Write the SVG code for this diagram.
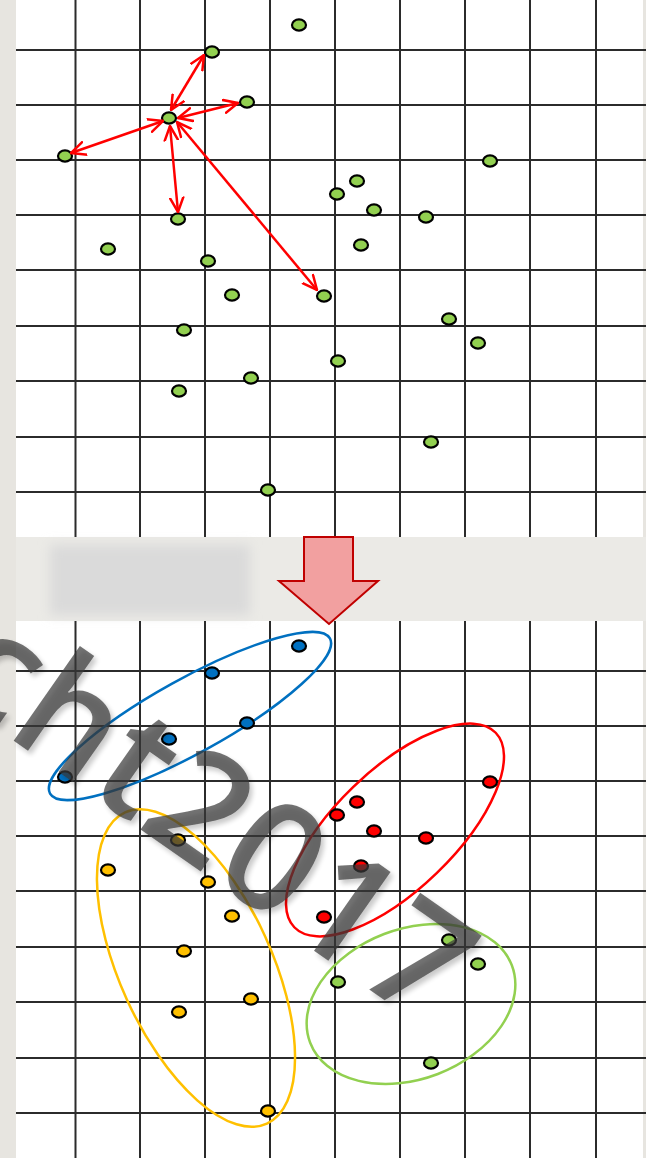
<svg xmlns="http://www.w3.org/2000/svg" width="646" height="1158" viewBox="0 0 646 1158">
<defs>
<style>
.grid line{stroke:#2b2b2b;stroke-width:2}
.dot{stroke:#000;stroke-width:2.2}
.g{fill:#92d050}.b{fill:#0070c0}.r{fill:#ff0000}.y{fill:#ffc000}
.conn line{stroke:#ff0000;stroke-width:2.5;fill:none;marker-start:url(#ah);marker-end:url(#ah)}
.cl{fill:none;stroke-width:2.5}
</style>
<marker id="ah" viewBox="0 0 16 16" markerWidth="16" markerHeight="16" refX="15" refY="8" orient="auto-start-reverse" markerUnits="userSpaceOnUse">
<path d="M0,1 L15,8 L0,15" fill="none" stroke="#ff0000" stroke-width="2.5"/>
</marker>
<filter id="sh" x="-10%" y="-10%" width="130%" height="130%">
<feGaussianBlur in="SourceAlpha" stdDeviation="2.5"/>
<feOffset dx="3" dy="4" result="o"/>
<feComponentTransfer><feFuncA type="linear" slope="0.3"/></feComponentTransfer>
<feMerge><feMergeNode/><feMergeNode in="SourceGraphic"/></feMerge>
</filter>
<filter id="soft" x="-20%" y="-20%" width="140%" height="140%"><feGaussianBlur stdDeviation="6"/></filter>
</defs>
<rect x="0" y="0" width="646" height="1158" fill="#e7e5e0"/>
<rect x="16" y="0" width="627" height="537" fill="#ffffff"/>
<rect x="16" y="621" width="627" height="537" fill="#ffffff"/>
<rect x="16" y="537" width="630" height="84" fill="#ebeae6"/>
<rect x="50" y="545" width="200" height="70" fill="#dadada" filter="url(#soft)"/>
<g class="grid" id="grid-top">
<line x1="75.5" y1="0" x2="75.5" y2="537"/><line x1="140" y1="0" x2="140" y2="537"/><line x1="205" y1="0" x2="205" y2="537"/><line x1="270" y1="0" x2="270" y2="537"/><line x1="335" y1="0" x2="335" y2="537"/><line x1="400" y1="0" x2="400" y2="537"/><line x1="465" y1="0" x2="465" y2="537"/><line x1="530" y1="0" x2="530" y2="537"/><line x1="596" y1="0" x2="596" y2="537"/>
<line x1="16" y1="50" x2="646" y2="50"/><line x1="16" y1="105" x2="646" y2="105"/><line x1="16" y1="160" x2="646" y2="160"/><line x1="16" y1="215" x2="646" y2="215"/><line x1="16" y1="270" x2="646" y2="270"/><line x1="16" y1="326" x2="646" y2="326"/><line x1="16" y1="381" x2="646" y2="381"/><line x1="16" y1="437" x2="646" y2="437"/><line x1="16" y1="492" x2="646" y2="492"/>
</g>
<g class="grid" id="grid-bottom">
<line x1="75.5" y1="621" x2="75.5" y2="1158"/><line x1="140" y1="621" x2="140" y2="1158"/><line x1="205" y1="621" x2="205" y2="1158"/><line x1="270" y1="621" x2="270" y2="1158"/><line x1="335" y1="621" x2="335" y2="1158"/><line x1="400" y1="621" x2="400" y2="1158"/><line x1="465" y1="621" x2="465" y2="1158"/><line x1="530" y1="621" x2="530" y2="1158"/><line x1="596" y1="621" x2="596" y2="1158"/>
<line x1="16" y1="671" x2="646" y2="671"/><line x1="16" y1="726" x2="646" y2="726"/><line x1="16" y1="781" x2="646" y2="781"/><line x1="16" y1="836" x2="646" y2="836"/><line x1="16" y1="891" x2="646" y2="891"/><line x1="16" y1="947" x2="646" y2="947"/><line x1="16" y1="1002" x2="646" y2="1002"/><line x1="16" y1="1058" x2="646" y2="1058"/><line x1="16" y1="1113" x2="646" y2="1113"/>
</g>
<g id="big-arrow">
<polygon points="304,537 353,537 353,581 378,581 329,624 279,581 304,581" fill="#f2a0a0" stroke="#c00000" stroke-width="2"/>
</g>
<g id="clusters">
<ellipse id="cluster-blue" class="cl" stroke="#0070c0" cx="190" cy="716" rx="160" ry="37" transform="rotate(-29 190 716)"/>
<ellipse id="cluster-red" class="cl" stroke="#ff0000" cx="395" cy="830" rx="140" ry="60" transform="rotate(-44 395 830)"/>
<ellipse id="cluster-yellow" class="cl" stroke="#ffc000" cx="196" cy="968" rx="171" ry="76" transform="rotate(65.5 196 968)"/>
<ellipse id="cluster-green" class="cl" stroke="#92d050" cx="411" cy="1004" rx="108" ry="75" transform="rotate(-21 411 1004)"/>
</g>
<g id="nodes-top">
<ellipse id="t1" class="dot g" cx="299" cy="25" rx="7" ry="5.6"/>
<ellipse id="t2" class="dot g" cx="212" cy="52" rx="7" ry="5.6"/>
<ellipse id="t3" class="dot g" cx="247" cy="102" rx="7" ry="5.6"/>
<ellipse id="t4" class="dot g" cx="169" cy="118" rx="7" ry="5.6"/>
<ellipse id="t5" class="dot g" cx="65" cy="156" rx="7" ry="5.6"/>
<ellipse id="t6" class="dot g" cx="178" cy="219" rx="7" ry="5.6"/>
<ellipse id="t7" class="dot g" cx="108" cy="249" rx="7" ry="5.6"/>
<ellipse id="t8" class="dot g" cx="208" cy="261" rx="7" ry="5.6"/>
<ellipse id="t9" class="dot g" cx="490" cy="161" rx="7" ry="5.6"/>
<ellipse id="t10" class="dot g" cx="357" cy="181" rx="7" ry="5.6"/>
<ellipse id="t11" class="dot g" cx="337" cy="194" rx="7" ry="5.6"/>
<ellipse id="t12" class="dot g" cx="374" cy="210" rx="7" ry="5.6"/>
<ellipse id="t13" class="dot g" cx="426" cy="217" rx="7" ry="5.6"/>
<ellipse id="t14" class="dot g" cx="361" cy="245" rx="7" ry="5.6"/>
<ellipse id="t15" class="dot g" cx="324" cy="296" rx="7" ry="5.6"/>
<ellipse id="t16" class="dot g" cx="449" cy="319" rx="7" ry="5.6"/>
<ellipse id="t17" class="dot g" cx="478" cy="343" rx="7" ry="5.6"/>
<ellipse id="t18" class="dot g" cx="338" cy="361" rx="7" ry="5.6"/>
<ellipse id="t19" class="dot g" cx="431" cy="442" rx="7" ry="5.6"/>
<ellipse id="t20" class="dot g" cx="232" cy="295" rx="7" ry="5.6"/>
<ellipse id="t21" class="dot g" cx="184" cy="330" rx="7" ry="5.6"/>
<ellipse id="t22" class="dot g" cx="251" cy="378" rx="7" ry="5.6"/>
<ellipse id="t23" class="dot g" cx="179" cy="391" rx="7" ry="5.6"/>
<ellipse id="t24" class="dot g" cx="268" cy="490" rx="7" ry="5.6"/>
</g>
<g id="nodes-bottom">
<ellipse id="b1" class="dot b" cx="299" cy="646" rx="7" ry="5.6"/>
<ellipse id="b2" class="dot b" cx="212" cy="673" rx="7" ry="5.6"/>
<ellipse id="b3" class="dot b" cx="247" cy="723" rx="7" ry="5.6"/>
<ellipse id="b4" class="dot b" cx="169" cy="739" rx="7" ry="5.6"/>
<ellipse id="b5" class="dot b" cx="65" cy="777" rx="7" ry="5.6"/>
<ellipse id="b6" class="dot y" cx="178" cy="840" rx="7" ry="5.6"/>
<ellipse id="b7" class="dot y" cx="108" cy="870" rx="7" ry="5.6"/>
<ellipse id="b8" class="dot y" cx="208" cy="882" rx="7" ry="5.6"/>
<ellipse id="b9" class="dot r" cx="490" cy="782" rx="7" ry="5.6"/>
<ellipse id="b10" class="dot r" cx="357" cy="802" rx="7" ry="5.6"/>
<ellipse id="b11" class="dot r" cx="337" cy="815" rx="7" ry="5.6"/>
<ellipse id="b12" class="dot r" cx="374" cy="831" rx="7" ry="5.6"/>
<ellipse id="b13" class="dot r" cx="426" cy="838" rx="7" ry="5.6"/>
<ellipse id="b14" class="dot r" cx="361" cy="866" rx="7" ry="5.6"/>
<ellipse id="b15" class="dot r" cx="324" cy="917" rx="7" ry="5.6"/>
<ellipse id="b16" class="dot g" cx="449" cy="940" rx="7" ry="5.6"/>
<ellipse id="b17" class="dot g" cx="478" cy="964" rx="7" ry="5.6"/>
<ellipse id="b18" class="dot g" cx="338" cy="982" rx="7" ry="5.6"/>
<ellipse id="b19" class="dot g" cx="431" cy="1063" rx="7" ry="5.6"/>
<ellipse id="b20" class="dot y" cx="232" cy="916" rx="7" ry="5.6"/>
<ellipse id="b21" class="dot y" cx="184" cy="951" rx="7" ry="5.6"/>
<ellipse id="b22" class="dot y" cx="251" cy="999" rx="7" ry="5.6"/>
<ellipse id="b23" class="dot y" cx="179" cy="1012" rx="7" ry="5.6"/>
<ellipse id="b24" class="dot y" cx="268" cy="1111" rx="7" ry="5.6"/>
</g>
<g class="conn" id="connectors">
<line x1="171" y1="110" x2="204" y2="55"/>
<line x1="178" y1="118" x2="238" y2="103"/>
<line x1="163" y1="121" x2="71" y2="153"/>
<line x1="170" y1="126" x2="178" y2="212"/>
<line x1="177" y1="122" x2="317" y2="290"/>
</g>
<g id="watermark" filter="url(#sh)">
<text x="-60" y="689" transform="rotate(35 -60 689)" font-family="'Open Sans','DejaVu Sans',sans-serif" font-weight="600" font-size="152" letter-spacing="2" fill="#383838" fill-opacity="0.7">cht2017</text>
</g>
</svg>
